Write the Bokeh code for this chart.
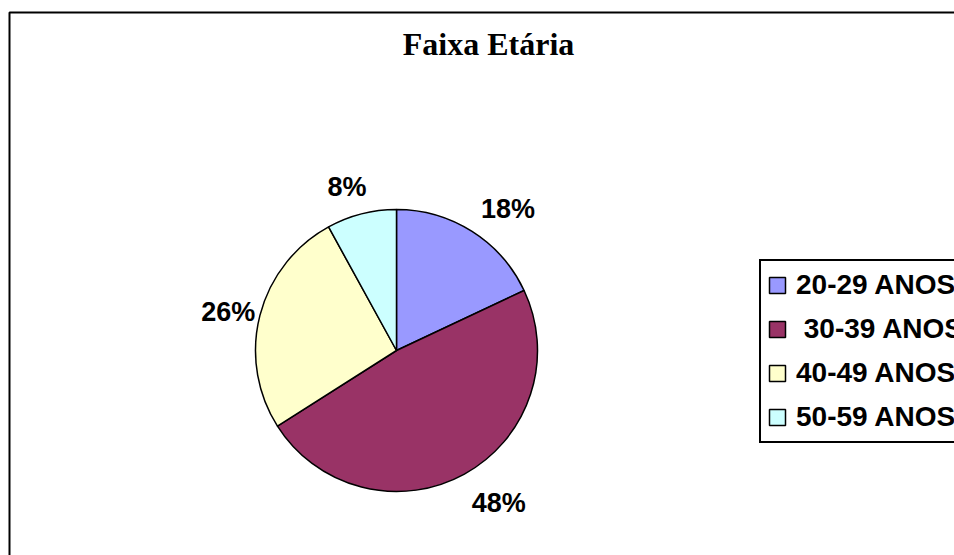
import numpy as np
from bokeh.plotting import figure
from bokeh.models import (ColumnDataSource, Range1d, BoxAnnotation, Label, Legend, LegendItem)
from bokeh.core.properties import value
from bokeh.embed import file_html
from bokeh.resources import INLINE

title_text = "Faixa Etária"
categories = ["20-29 ANOS", "\u00a030-39 ANOS", "40-49 ANOS", "50-59 ANOS"]
shares = [18, 48, 26, 8]
pct_labels = ["18%", "48%", "26%", "8%"]
colors = ["#9999FF", "#993366", "#FFFFCC", "#CCFFFF"]

W, H = 954, 555
CX, CY, R = 396, 205, 141
LAB_FS = 27

vals = np.array(shares, dtype=float)
frac = vals / vals.sum()
c1 = np.cumsum(frac)
c0 = c1 - frac
start = np.pi / 2 - 2 * np.pi * c1
end = np.pi / 2 - 2 * np.pi * c0
mid = 2 * np.pi * (c0 + c1) / 2  # clockwise from top
s, c = np.sin(mid), np.cos(mid)
r_lab = R * (1 + 0.14 * np.abs(c))
tw = np.array([LAB_FS * (0.556 * (len(t) - 1) + 0.889) for t in pct_labels])
lx = CX + r_lab * s + tw / 2 * np.clip(2 * s, -1, 1)
ly = CY + r_lab * c + 11 * np.clip(2 * c, -1, 1) - 3

src = ColumnDataSource(dict(start=start, end=end, color=colors, label=categories))
lsrc = ColumnDataSource(dict(x=lx, y=ly, text=pct_labels))

p = figure(width=W, height=H, output_backend="svg", toolbar_location=None,
           x_range=Range1d(0, W), y_range=Range1d(0, H),
           min_border=0, outline_line_color=None, background_fill_color="white",
           border_fill_color="white")
p.axis.visible = False
p.grid.visible = False

r = p.wedge(x=CX, y=CY, radius=R, start_angle="start", end_angle="end",
            fill_color="color", line_color="black", line_width=1.5, source=src)

p.text(x="x", y="y", text="text", text_align="center", text_baseline="middle",
       text_font=value("Liberation Sans"), text_font_style="bold",
       text_font_size=f"{LAB_FS}px", text_color="black", source=lsrc)

p.add_layout(Label(x=488, y=512, text=title_text, text_align="center",
                   text_baseline="alphabetic", text_font="Liberation Serif",
                   text_font_style="bold", text_font_size="32px", text_color="black"))

p.add_layout(BoxAnnotation(left=9, right=W + 20, top=H - 12, bottom=-20,
                           fill_alpha=0, line_color="black", line_width=2, line_alpha=1))

items = [LegendItem(label=categories[i], renderers=[r], index=i) for i in range(len(categories))]
legend = Legend(items=items, location=(759, 112), orientation="vertical",
                glyph_width=20, glyph_height=20, label_standoff=9,
                label_height=36, spacing=8, padding=6,
                label_text_font="Liberation Sans", label_text_font_style="bold",
                label_text_font_size="28px", label_text_color="black",
                border_line_color="black", border_line_width=2, border_line_alpha=1.0,
                background_fill_color="white", background_fill_alpha=1.0,
                margin=0)
p.add_layout(legend, "center")

open("out.html", "w").write(file_html(p, INLINE))
